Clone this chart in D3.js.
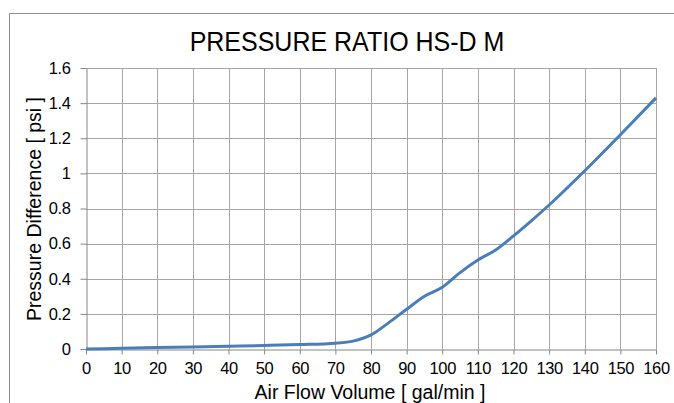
<!DOCTYPE html>
<html>
<head>
<meta charset="utf-8">
<script src="https://cdn.jsdelivr.net/npm/d3@7"></script>
<style>
body{margin:0;background:#fff;}
text{font-family:"Liberation Sans",Arial,sans-serif;fill:#000;}
</style>
</head>
<body>
<script>
var flow=[0,10,20,30,40,50,60,70,75,80,85,90,95,100,105,110,115,120,125,130,140,150,160];
var pressure=[0,0.004,0.008,0.012,0.016,0.02,0.025,0.033,0.045,0.08,0.15,0.226,0.3,0.351,0.435,0.507,0.564,0.644,0.73,0.82,1.015,1.22,1.43];
var xTicks=d3.range(0,161,10);
var yTicks=[0,0.2,0.4,0.6,0.8,1,1.2,1.4,1.6];
var title="PRESSURE RATIO HS-D M";
var xTitle="Air Flow Volume [ gal/min ]";
var yTitle="Pressure Difference [ psi ]";

var width=674;
var height=403;
var svg=d3.select("body")
    .append("svg")
    .attr("width",width)
    .attr("height",height);

// outer chart border
svg.append("path")
    .attr("d","M9.5,403V13.5H674")
    .attr("fill","none")
    .attr("stroke","#8c8c8c")
    .attr("stroke-width",1);

var x=d3.scaleLinear().domain([0,160]).range([86,656]);
var y=d3.scaleLinear().domain([0,1.6]).range([349,68]);

// grid
svg.append("g").selectAll("line")
    .data(yTicks.slice(1))
    .enter()
    .append("line")
    .attr("x1",x(0)).attr("x2",x(160))
    .attr("y1",function(d){return Math.round(y(d))+0.5;})
    .attr("y2",function(d){return Math.round(y(d))+0.5;})
    .attr("stroke","#a6a6a6");
svg.append("g").selectAll("line")
    .data(xTicks.slice(1))
    .enter()
    .append("line")
    .attr("x1",function(d){return Math.round(x(d))+0.5;})
    .attr("x2",function(d){return Math.round(x(d))+0.5;})
    .attr("y1",y(1.6)).attr("y2",y(0))
    .attr("stroke","#a6a6a6");

var xAxis=svg.append("g")
    .attr("transform","translate(0,"+(Math.round(y(0))+0.5)+")")
    .call(d3.axisBottom(x).tickValues(xTicks).tickSize(5).tickPadding(8).tickSizeOuter(0));
var yAxis=svg.append("g")
    .attr("transform","translate("+(Math.round(x(0))+0.5)+",0)")
    .call(d3.axisLeft(y).tickValues(yTicks).tickSize(6).tickPadding(10).tickSizeOuter(0)
        .tickFormat(function(d){return d3.format("")(+d.toFixed(1));}));
[xAxis,yAxis].forEach(function(a){
    a.select(".domain").attr("stroke","#868686");
    a.selectAll(".tick line").attr("stroke","#868686");
    a.selectAll(".tick text")
        .attr("fill","#000")
        .attr("font-family","Liberation Sans, Arial, sans-serif")
        .attr("font-size","16.5px")
        .attr("letter-spacing","-0.4px");
});

var line=d3.line()
    .x(function(d){return x(d[0]);})
    .y(function(d){return y(d[1]);})
    .curve(d3.curveMonotoneX);
svg.append("path")
    .datum(d3.zip(flow,pressure))
    .attr("d",line)
    .attr("fill","none")
    .attr("stroke","#4a7ebb")
    .attr("stroke-width",3)
    .attr("stroke-linejoin","round");

svg.append("text")
    .attr("transform","translate(347,51)scale(1,1.1)")
    .attr("text-anchor","middle")
    .attr("font-size","25px")
    .text(title);
svg.append("text")
    .attr("x",370).attr("y",399)
    .attr("text-anchor","middle")
    .attr("font-size","19.5px")
    .text(xTitle);
svg.append("text")
    .attr("transform","translate(41,209)rotate(-90)")
    .attr("text-anchor","middle")
    .attr("font-size","19.5px")
    .text(yTitle);
</script>
</body>
</html>
